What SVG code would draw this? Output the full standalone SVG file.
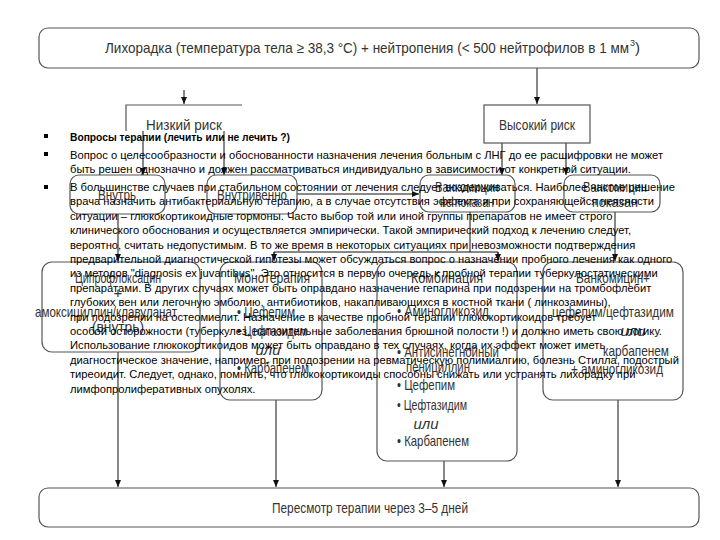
<svg xmlns="http://www.w3.org/2000/svg" width="720" height="540" viewBox="0 0 720 540">
<style>
.box{fill:none;stroke:#555;stroke-width:1.2}
.ft{font-family:"Liberation Sans Narrow","Liberation Sans",Arial,sans-serif;fill:#333;font-size:15px}
.ov{font-family:"Liberation Sans",Arial,sans-serif;fill:#000;font-size:11.2px}
.cn{stroke:#111;stroke-width:1;fill:none}
</style>
<defs>
<marker id="ah" markerWidth="8" markerHeight="8" refX="7" refY="4" orient="auto" markerUnits="userSpaceOnUse">
<path d="M0,1 L7,4 L0,7 Z" fill="#111"/>
</marker>
</defs>
<rect width="720" height="540" fill="#fff"/>

<g id="connectors">
<line class="cn" x1="184" y1="90" x2="184" y2="104" marker-end="url(#ah)"/>
<line class="cn" x1="537" y1="68" x2="537" y2="104" marker-end="url(#ah)"/>
<line class="cn" x1="143" y1="131" x2="143" y2="175" marker-end="url(#ah)"/>
<line class="cn" x1="224" y1="131" x2="224" y2="175" marker-end="url(#ah)"/>
<line class="cn" x1="502" y1="143" x2="502" y2="175" marker-end="url(#ah)"/>
<line class="cn" x1="566" y1="143" x2="566" y2="175" marker-end="url(#ah)"/>
<line class="cn" x1="297" y1="194" x2="419" y2="194" marker-end="url(#ah)"/>
<line class="cn" x1="118" y1="214" x2="118" y2="261" marker-end="url(#ah)"/>
<line class="cn" x1="470" y1="212" x2="470" y2="252"/>
<path class="cn" d="M274,255 V252 H498 V255"/>
<line class="cn" x1="274" y1="252" x2="274" y2="261" marker-end="url(#ah)"/>
<line class="cn" x1="498" y1="252" x2="498" y2="261" marker-end="url(#ah)"/>
<line class="cn" x1="615" y1="212" x2="615" y2="261" marker-end="url(#ah)"/>
<line class="cn" x1="118" y1="352" x2="118" y2="487" marker-end="url(#ah)"/>
<line class="cn" x1="276" y1="400" x2="276" y2="487" marker-end="url(#ah)"/>
<line class="cn" x1="444" y1="461" x2="444" y2="487" marker-end="url(#ah)"/>
<line class="cn" x1="618" y1="400" x2="618" y2="487" marker-end="url(#ah)"/>
</g>

<g id="n-fever">
<rect class="box" x="39" y="28" width="660" height="40" rx="9"/>
<text class="ft" x="105" y="53" textLength="524" lengthAdjust="spacingAndGlyphs">Лихорадка (температура тела ≥ 38,3 °C) + нейтропения (&lt; 500 нейтрофилов в 1 мм</text>
<text class="ft" x="630" y="46" style="font-size:9px">3</text>
<text class="ft" x="635" y="53">)</text>
</g>

<g id="n-low">
<path class="box" d="M126,131 V105 H242"/>
<text class="ft" x="184" y="130" text-anchor="middle" textLength="76" lengthAdjust="spacingAndGlyphs">Низкий риск</text>
</g>

<g id="n-high">
<rect class="box" x="484" y="105" width="106" height="38"/>
<text class="ft" x="537" y="130" text-anchor="middle" textLength="76" lengthAdjust="spacingAndGlyphs">Высокий риск</text>
</g>

<g id="n-oral">
<rect class="box" x="70" y="175" width="95" height="39" rx="9"/>
<text class="ft" x="117" y="200" text-anchor="middle" textLength="38" lengthAdjust="spacingAndGlyphs">Внутрь</text>
</g>

<g id="n-iv">
<rect class="box" x="207" y="175" width="90" height="39" rx="9"/>
<text class="ft" x="252" y="200" text-anchor="middle" textLength="70" lengthAdjust="spacingAndGlyphs">Внутривенно</text>
</g>

<g id="n-vanc-no">
<rect class="box" x="420" y="175" width="95" height="37" rx="9"/>
<text class="ft" x="467" y="192" text-anchor="middle" textLength="64" lengthAdjust="spacingAndGlyphs">Ванкомицин</text>
<text class="ft" x="467" y="207" text-anchor="middle" textLength="54" lengthAdjust="spacingAndGlyphs">не показан</text>
</g>

<g id="n-vanc-yes">
<rect class="box" x="564" y="175" width="96" height="37" rx="9"/>
<text class="ft" x="615" y="192" text-anchor="middle" textLength="64" lengthAdjust="spacingAndGlyphs">Ванкомицин</text>
<text class="ft" x="615" y="207" text-anchor="middle" textLength="46" lengthAdjust="spacingAndGlyphs">показан</text>
</g>

<g id="n-cipro">
<rect class="box" x="42" y="262" width="158" height="90" rx="10"/>
<text class="ft" x="118" y="283" text-anchor="middle" textLength="86" lengthAdjust="spacingAndGlyphs">Ципрофлоксацин</text>
<text class="ft" x="118" y="298" text-anchor="middle">+</text>
<text class="ft" x="106" y="317" text-anchor="middle" textLength="142" lengthAdjust="spacingAndGlyphs">амоксициллин/клавуланат</text>
<text class="ft" x="118" y="332" text-anchor="middle" textLength="52" lengthAdjust="spacingAndGlyphs">(внутрь)</text>
</g>

<g id="n-mono">
<rect class="box" x="220" y="262" width="102" height="138" rx="10"/>
<text class="ft" x="272" y="283" text-anchor="middle" textLength="76" lengthAdjust="spacingAndGlyphs">Монотерапия</text>
<text class="ft" x="237" y="317" textLength="58" lengthAdjust="spacingAndGlyphs">• Цефепим</text>
<text class="ft" x="237" y="336" textLength="70" lengthAdjust="spacingAndGlyphs">• Цефтазидим</text>
<text class="ft" x="268" y="355" text-anchor="middle" style="font-style:italic">или</text>
<text class="ft" x="237" y="373" textLength="72" lengthAdjust="spacingAndGlyphs">• Карбапенем</text>
</g>

<g id="n-combo">
<rect class="box" x="377" y="262" width="140" height="199" rx="10"/>
<text class="ft" x="447" y="283" text-anchor="middle" textLength="72" lengthAdjust="spacingAndGlyphs">Комбинация</text>
<text class="ft" x="397" y="316" textLength="92" lengthAdjust="spacingAndGlyphs">• Аминогликозид</text>
<text class="ft" x="397" y="357" textLength="102" lengthAdjust="spacingAndGlyphs">• Антисинегнойный</text>
<text class="ft" x="406" y="372" textLength="64" lengthAdjust="spacingAndGlyphs">пенициллин</text>
<text class="ft" x="397" y="390" textLength="58" lengthAdjust="spacingAndGlyphs">• Цефепим</text>
<text class="ft" x="397" y="410" textLength="70" lengthAdjust="spacingAndGlyphs">• Цефтазидим</text>
<text class="ft" x="426" y="429" text-anchor="middle" style="font-style:italic">или</text>
<text class="ft" x="397" y="446" textLength="72" lengthAdjust="spacingAndGlyphs">• Карбапенем</text>
</g>

<g id="n-vanc-combo">
<rect class="box" x="543" y="262" width="140" height="138" rx="10"/>
<text class="ft" x="613" y="283" text-anchor="middle" textLength="74" lengthAdjust="spacingAndGlyphs">Ванкомицин+</text>
<text class="ft" x="613" y="317" text-anchor="middle" textLength="122" lengthAdjust="spacingAndGlyphs">цефепим/цефтазидим</text>
<text class="ft" x="633" y="336" text-anchor="middle" style="font-style:italic">или</text>
<text class="ft" x="636" y="356" text-anchor="middle" textLength="66" lengthAdjust="spacingAndGlyphs">карбапенем</text>
<text class="ft" x="617" y="374" text-anchor="middle" textLength="92" lengthAdjust="spacingAndGlyphs">+ аминогликозид</text>
</g>

<g id="n-review">
<rect class="box" x="39" y="488" width="660" height="39" rx="9"/>
<text class="ft" x="370" y="513" text-anchor="middle" textLength="196" lengthAdjust="spacingAndGlyphs">Пересмотр терапии через 3–5 дней</text>
</g>

<g id="overlay-text">
<rect x="44" y="134" width="4" height="4" fill="#000"/>
<rect x="44" y="152" width="4" height="4" fill="#000"/>
<rect x="44" y="185" width="4" height="4" fill="#000"/>
<text class="ov" x="70" y="141" font-weight="bold" textLength="220" lengthAdjust="spacingAndGlyphs">Вопросы терапии (лечить или не лечить ?)</text>
<text class="ov" x="70" y="158.5">Вопрос о целесообразности и обоснованности назначения лечения больным с ЛНГ до ее расшифровки не может</text>
<text class="ov" x="70" y="173">быть решен однозначно и должен рассматриваться индивидуально в зависимости от конкретной ситуации.</text>
<text class="ov" x="70" y="191">В большинстве случаев при стабильном состоянии от лечения следует воздерживаться. Наиболее частое решение</text>
<text class="ov" x="70" y="205.4">врача назначить антибактериальную терапию, а в случае отсутствия эффекта и при сохраняющейся неясности</text>
<text class="ov" x="70" y="219.8">ситуации – глюкокортикоидные гормоны. Часто выбор той или иной группы препаратов не имеет строго</text>
<text class="ov" x="70" y="234.2">клинического обоснования и осуществляется эмпирически. Такой эмпирический подход к лечению следует,</text>
<text class="ov" x="70" y="248.6">вероятно, считать недопустимым. В то же время в некоторых ситуациях при невозможности подтверждения</text>
<text class="ov" x="70" y="263">предварительной диагностической гипотезы может обсуждаться вопрос о назначении пробного лечения как одного</text>
<text class="ov" x="70" y="277.4">из методов "diagnosis ex juvantibus". Это относится в первую очередь к пробной терапии туберкулостатическими</text>
<text class="ov" x="70" y="291.8">препаратами. В других случаях может быть оправдано назначение гепарина при подозрении на тромбофлебит</text>
<text class="ov" x="70" y="306.2">глубоких вен или легочную эмболию, антибиотиков, накапливающихся в костной ткани ( линкозамины),</text>
<text class="ov" x="70" y="320.6">при подозрении на остеомиелит. Назначение в качестве пробной терапии глюкокортикоидов требует</text>
<text class="ov" x="70" y="335">особой осторожности (туберкулез, нагноительные заболевания брюшной полости !) и должно иметь свою логику.</text>
<text class="ov" x="70" y="349.4">Использование глюкокортикоидов может быть оправдано в тех случаях, когда их эффект может иметь</text>
<text class="ov" x="70" y="363.8">диагностическое значение, например, при подозрении на ревматическую полимиалгию, болезнь Стилла, подострый</text>
<text class="ov" x="70" y="378.2">тиреоидит. Следует, однако, помнить, что глюкокортикоиды способны снижать или устранять лихорадку при</text>
<text class="ov" x="70" y="392.6">лимфопролиферативных опухолях.</text>
</g>
</svg>
